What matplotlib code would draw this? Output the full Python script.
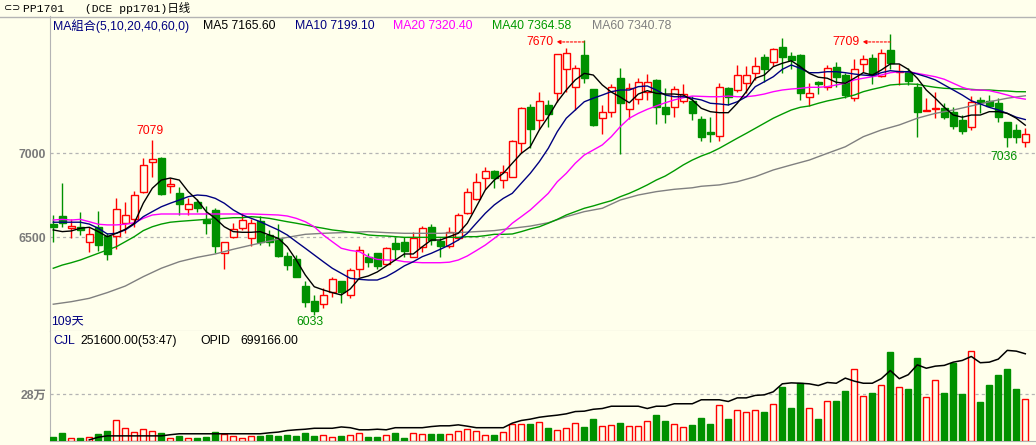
import matplotlib
matplotlib.use('Agg')
import matplotlib.pyplot as plt
import numpy as np

# ---- data ----
opens = [6577, 6625, 6555, 6561, 6472, 6558, 6506, 6506, 6582, 6605,
         6770, 6948, 6972, 6804, 6760, 6665, 6710, 6601, 6661, 6407,
         6502, 6552, 6492, 6595, 6512, 6492, 6387, 6367, 6208, 6119,
         6100, 6175, 6238, 6155, 6308, 6383, 6403, 6338, 6462, 6472,
         6383, 6442, 6558, 6478, 6446, 6492, 6641, 6724, 6849, 6893,
         6839, 6859, 7058, 7272, 7196, 7286, 7355, 7498, 7391, 7583,
         7379, 7207, 7242, 7444, 7260, 7320, 7365, 7435, 7272, 7276,
         7310, 7310, 7200, 7127, 7101, 7385, 7375, 7415, 7474, 7569,
         7544, 7629, 7577, 7583, 7332, 7425, 7391, 7510, 7464, 7329,
         7528, 7567, 7460, 7613, 7480, 7484, 7391, 7248, 7262, 7266,
         7246, 7196, 7153, 7315, 7311, 7300, 7182, 7137, 7064]
highs = [6631, 6820, 6605, 6647, 6561, 6657, 6522, 6730, 6710, 6774,
         6968, 7079, 6976, 6853, 6800, 6730, 6724, 6685, 6671, 6472,
         6585, 6641, 6605, 6625, 6542, 6577, 6413, 6393, 6240, 6155,
         6195, 6264, 6240, 6314, 6446, 6407, 6407, 6442, 6498, 6498,
         6532, 6565, 6577, 6492, 6558, 6645, 6790, 6883, 6919, 6897,
         6929, 7077, 7272, 7292, 7365, 7315, 7592, 7623, 7524, 7670,
         7383, 7286, 7411, 7504, 7419, 7444, 7470, 7439, 7385, 7399,
         7411, 7339, 7220, 7212, 7419, 7395, 7524, 7518, 7573, 7589,
         7627, 7683, 7603, 7587, 7415, 7429, 7524, 7540, 7478, 7558,
         7583, 7589, 7619, 7709, 7530, 7504, 7415, 7325, 7361, 7296,
         7272, 7226, 7341, 7335, 7345, 7325, 7186, 7171, 7147]
lows = [6472, 6561, 6492, 6512, 6413, 6419, 6363, 6427, 6522, 6561,
        6762, 6857, 6750, 6764, 6631, 6631, 6651, 6518, 6407, 6308,
        6492, 6542, 6446, 6452, 6448, 6380, 6304, 6260, 6082, 6033,
        6076, 6145, 6109, 6135, 6264, 6320, 6308, 6333, 6369, 6379,
        6380, 6413, 6452, 6383, 6433, 6482, 6637, 6720, 6784, 6792,
        6790, 6855, 6998, 7028, 7141, 7153, 7305, 7365, 7256, 7415,
        7161, 7113, 7212, 6994, 7200, 7292, 7315, 7173, 7180, 7216,
        7299, 7196, 7073, 7067, 7073, 7286, 7365, 7359, 7435, 7425,
        7518, 7478, 7498, 7315, 7280, 7351, 7375, 7395, 7325, 7310,
        7484, 7411, 7454, 7498, 7405, 7405, 7097, 7248, 7206, 7200,
        7141, 7113, 7137, 7240, 7276, 7186, 7036, 7058, 7038]
closes = [6561, 6582, 6565, 6542, 6518, 6452, 6397, 6665, 6631, 6750,
          6929, 6964, 6754, 6815, 6695, 6695, 6674, 6585, 6448, 6468,
          6546, 6601, 6582, 6468, 6468, 6387, 6333, 6264, 6115, 6060,
          6155, 6248, 6175, 6304, 6423, 6353, 6329, 6433, 6429, 6419,
          6492, 6555, 6482, 6446, 6528, 6631, 6766, 6829, 6893, 6849,
          6885, 7071, 7266, 7141, 7310, 7232, 7589, 7593, 7504, 7448,
          7167, 7242, 7395, 7296, 7385, 7421, 7425, 7276, 7232, 7379,
          7349, 7240, 7097, 7111, 7391, 7331, 7464, 7464, 7520, 7500,
          7617, 7569, 7554, 7359, 7355, 7409, 7504, 7450, 7345, 7498,
          7558, 7464, 7597, 7537, 7490, 7430, 7246, 7256, 7270, 7216,
          7161, 7133, 7302, 7304, 7280, 7212, 7097, 7093, 7111]

volumes = [24000, 48000, 16000, 18000, 24000, 42000, 60000, 126000, 78000, 56000,
           72000, 62000, 48000, 18000, 30000, 18000, 20000, 24000, 56000, 40000,
           28000, 18000, 28000, 30000, 36000, 30000, 36000, 30000, 48000, 30000,
           36000, 24000, 30000, 36000, 46000, 24000, 24000, 34000, 48000, 18000,
           46000, 40000, 42000, 42000, 40000, 60000, 70000, 60000, 34000, 36000,
           54000, 100000, 100000, 102000, 114000, 78000, 66000, 76000, 108000, 84000,
           132000, 88000, 94000, 108000, 88000, 88000, 120000, 157000, 120000, 100000,
           82000, 94000, 138000, 102000, 215000, 132000, 185000, 173000, 185000, 175000,
           221000, 325000, 199000, 347000, 197000, 132000, 239000, 241000, 301000, 432000,
           269000, 289000, 337000, 536000, 323000, 313000, 500000, 263000, 365000, 289000,
           470000, 283000, 540000, 235000, 337000, 397000, 434000, 313000, 251600]

# open interest line starts at day 4
oi_start = 4
open_interest = [246000, 260000, 267000, 267000, 267000, 267000, 267000, 267000, 267000, 273000,
                 278000, 278000, 278000, 278000, 278000, 278000, 278000, 278000, 278000, 278000,
                 283000, 287000, 295000, 299000, 302000, 307000, 307000, 307000, 314000, 310000,
                 299000, 299000, 302000, 299000, 310000, 310000, 310000, 310000, 316000, 320000,
                 320000, 325000, 318000, 310000, 310000, 310000, 310000, 334000, 348000, 355000,
                 365000, 371000, 376000, 383000, 395000, 397000, 407000, 411000, 423000, 423000,
                 423000, 423000, 411000, 423000, 423000, 436000, 436000, 436000, 457000, 457000,
                 457000, 448000, 467000, 467000, 480000, 483000, 499000, 541000, 546000, 544000,
                 541000, 532000, 548000, 544000, 571000, 555000, 544000, 544000, 568000, 611000,
                 568000, 589000, 641000, 623000, 634000, 638000, 655000, 664000, 685000, 652000,
                 655000, 671000, 717000, 713000, 699166]

ma5 = [6542, 6532, 6536, 6552, 6558, 6532, 6502, 6522, 6546, 6582,
       6701, 6790, 6839, 6851, 6839, 6770, 6720, 6651, 6611, 6561,
       6532, 6528, 6528, 6532, 6512, 6492, 6442, 6363, 6274, 6204,
       6185, 6169, 6155, 6191, 6254, 6268, 6292, 6328, 6363, 6399,
       6399, 6442, 6482, 6482, 6502, 6522, 6582, 6680, 6780, 6839,
       6879, 6939, 6998, 7038, 7137, 7216, 7305, 7375, 7435, 7474,
       7464, 7405, 7363, 7333, 7299, 7351, 7371, 7355, 7351, 7351,
       7345, 7316, 7266, 7246, 7240, 7240, 7296, 7365, 7445, 7464,
       7514, 7534, 7549, 7514, 7474, 7451, 7445, 7421, 7415, 7445,
       7478, 7464, 7494, 7530, 7530, 7498, 7445, 7375, 7326, 7272,
       7226, 7213, 7226, 7226, 7246, 7246, 7236, 7207, 7165.60]
ma10 = [6588, 6588, 6588, 6588, 6577, 6552, 6518, 6522, 6542, 6577,
        6621, 6651, 6680, 6701, 6720, 6740, 6750, 6746, 6730, 6701,
        6661, 6631, 6611, 6591, 6566, 6542, 6512, 6472, 6433, 6393,
        6353, 6314, 6284, 6254, 6248, 6244, 6244, 6264, 6294, 6328,
        6353, 6383, 6403, 6427, 6452, 6482, 6522, 6582, 6641, 6691,
        6730, 6760, 6820, 6879, 6948, 7028, 7127, 7207, 7256, 7305,
        7326, 7345, 7365, 7375, 7375, 7395, 7399, 7375, 7345, 7335,
        7335, 7326, 7316, 7296, 7292, 7286, 7305, 7335, 7395, 7424,
        7454, 7498, 7524, 7504, 7478, 7478, 7484, 7484, 7478, 7470,
        7464, 7460, 7478, 7490, 7484, 7484, 7470, 7454, 7435, 7405,
        7375, 7345, 7311, 7292, 7272, 7256, 7236, 7213, 7199.10]
ma20 = [6601, 6605, 6601, 6605, 6591, 6576, 6572, 6572, 6576, 6585,
        6611, 6631, 6637, 6637, 6637, 6637, 6637, 6637, 6637, 6637,
        6637, 6637, 6637, 6635, 6633, 6631, 6625, 6611, 6591, 6561,
        6512, 6472, 6433, 6420, 6413, 6383, 6367, 6363, 6363, 6353,
        6350, 6347, 6347, 6347, 6350, 6363, 6387, 6419, 6452, 6492,
        6532, 6582, 6621, 6661, 6710, 6760, 6829, 6879, 6939, 6988,
        7018, 7048, 7097, 7157, 7207, 7236, 7260, 7280, 7299, 7316,
        7329, 7339, 7337, 7335, 7335, 7339, 7335, 7335, 7341, 7351,
        7365, 7375, 7381, 7385, 7391, 7391, 7395, 7405, 7415, 7435,
        7445, 7454, 7464, 7478, 7484, 7484, 7474, 7464, 7454, 7439,
        7415, 7391, 7375, 7375, 7371, 7359, 7345, 7329, 7320.40]
ma40 = [6314, 6333, 6347, 6363, 6383, 6403, 6423, 6442, 6472, 6502,
        6538, 6561, 6577, 6588, 6593, 6597, 6601, 6605, 6607, 6611,
        6615, 6615, 6621, 6617, 6611, 6601, 6591, 6582, 6572, 6561,
        6552, 6542, 6536, 6528, 6522, 6512, 6508, 6506, 6502, 6498,
        6498, 6498, 6498, 6498, 6498, 6498, 6502, 6502, 6508, 6516,
        6516, 6518, 6532, 6548, 6561, 6582, 6605, 6631, 6651, 6671,
        6685, 6701, 6716, 6740, 6760, 6784, 6810, 6839, 6863, 6895,
        6929, 6958, 6982, 7002, 7028, 7058, 7088, 7117, 7147, 7177,
        7207, 7232, 7256, 7272, 7280, 7296, 7310, 7321, 7332, 7345,
        7365, 7379, 7391, 7405, 7409, 7411, 7409, 7399, 7391, 7385,
        7383, 7381, 7379, 7375, 7375, 7371, 7369, 7365, 7364.58]
ma60_idx = [0, 2, 4, 6, 8, 10, 12, 14, 16, 18, 20, 22, 24, 26, 28, 30, 32,
            33, 35, 37, 39, 41, 43, 45, 47, 49, 51, 53, 55, 57, 59, 61, 63, 65, 67, 69, 71,
            72, 74, 76, 78, 80, 82, 84, 86, 88, 90, 92, 94, 96, 98, 100, 102, 104, 106, 108]
ma60 = [6100, 6115, 6135, 6169, 6208, 6264, 6314, 6353, 6379, 6399, 6427, 6452, 6476, 6498, 6516, 6522, 6526,
        6528, 6532, 6526, 6522, 6522, 6522, 6526, 6532, 6538, 6552, 6565, 6585, 6621, 6651, 6671, 6720, 6750,
        6770, 6784, 6793,
        6802, 6810, 6829, 6859, 6899, 6929, 6958, 6998, 7037, 7097, 7137, 7167, 7207, 7236, 7256, 7280, 7305,
        7326, 7340.78]

W, H = 1036, 445
BG = '#FFFFEC'
RED = '#FF0000'
GRN = '#009100'
NAVY = '#000080'
GRAY = '#808080'
LINE = '#B4B4B4'

plt.rcParams['font.family'] = ['Liberation Sans', 'Noto Sans CJK TC', 'DejaVu Sans']

fig = plt.figure(figsize=(W / 100, H / 100), dpi=100, facecolor=BG)


def fx(px):
    return px / W


def fy(py):
    return 1 - py / H


ax = fig.add_axes([fx(49.5), fy(331), fx(W - 49.5), (331 - 16.5) / H], facecolor=BG)
vax = fig.add_axes([fx(49.5), fy(441), fx(W - 49.5), (441 - 331) / H], facecolor=BG)

x = np.arange(len(closes))
o = np.array(opens, float)
c = np.array(closes, float)
hi = np.array(highs, float)
lo = np.array(lows, float)
up = c >= o
top = np.maximum(o, c)
bot = np.minimum(o, c)
bw = 0.72

for a in (ax, vax):
    a.set_xlim(-0.42, 109.19)
    for s in a.spines.values():
        s.set_visible(False)
    a.spines['left'].set_visible(True)
    a.spines['left'].set_color(LINE)
    a.spines['bottom'].set_visible(True)
    a.spines['bottom'].set_color(LINE)
    a.tick_params(length=0, pad=2.5, labelsize=8.8, labelcolor='#7A7A7A')
    a.set_xticks([])

ax.set_ylim(5940.5, 7812.5)
ax.set_yticks([6500, 7000])
ax.set_yticklabels(['6500', '7000'], fontweight='bold')
for lv in (6500, 7000):
    ax.axhline(lv, color=LINE, lw=0.9, ls=(0, (2.5, 2.5)), zorder=0)

# wicks
ax.vlines(x[~up], lo[~up], hi[~up], color=GRN, lw=1, zorder=2)
ax.vlines(x[up], top[up], hi[up], color=RED, lw=1, zorder=2)
ax.vlines(x[up], lo[up], bot[up], color=RED, lw=1, zorder=2)
# bodies
ax.bar(x[~up], top[~up] - bot[~up], bottom=bot[~up], width=bw, color=GRN, edgecolor=GRN, lw=1, zorder=3)
ax.bar(x[up], top[up] - bot[up], bottom=bot[up], width=bw, color=BG, edgecolor=RED, lw=1, zorder=3)

# moving averages
ax.plot(ma60_idx, ma60, color=GRAY, lw=1, zorder=4)
ax.plot(x, ma40, color='#009A00', lw=1, zorder=4)
ax.plot(x, ma20, color='#FF00FF', lw=1, zorder=4)
ax.plot(x, ma10, color=NAVY, lw=1, zorder=4)
ax.plot(x, ma5, color='black', lw=1, zorder=4)

# extreme labels
i_hi = int(np.argmax(hi[:30]))
ax.annotate(f'{hi[i_hi]:.0f}', xy=(i_hi, hi[i_hi]), xytext=(-2, 9), textcoords='offset pixels',
            ha='center', va='center', color=RED, fontsize=8.8)
i_lo = int(np.argmin(lo))
ax.annotate(f'{lo[i_lo]:.0f}', xy=(i_lo, lo[i_lo]), xytext=(-4, -7), textcoords='offset pixels',
            ha='center', va='center', color=GRN, fontsize=8.8)
i_lo2 = 100 + int(np.argmin(lo[100:]))
ax.annotate(f'{lo[i_lo2]:.0f}', xy=(i_lo2, lo[i_lo2]), xytext=(-3, -10), textcoords='offset pixels',
            ha='center', va='center', color=GRN, fontsize=8.8)

peak_level = 7661
for k in (59, 93):
    ax.annotate(f'{hi[k]:.0f}', xy=(k, peak_level), xytext=(-31, 0), textcoords='offset pixels',
                ha='right', va='center', color=RED, fontsize=8.8)
    ax.annotate('', xy=(k - 3.1, peak_level), xytext=(k, peak_level),
                arrowprops=dict(arrowstyle='-|>', color=RED, lw=0.8, ls=(0, (2, 1.5)),
                                shrinkA=0, shrinkB=0, mutation_scale=6))

# volume panel
vol = np.array(volumes, float)
vax.set_ylim(0, 662000)
vax.set_yticks([280000])
vax.set_yticklabels(['28万'], fontweight='bold')
vax.axhline(280000, color=LINE, lw=0.9, ls=(0, (2.5, 2.5)), zorder=0)
vax.bar(x[~up], vol[~up], width=0.7, color=GRN, edgecolor=GRN, lw=1, zorder=3)
vax.bar(x[up], vol[up], width=0.7, color=BG, edgecolor=RED, lw=1, zorder=3)

oax = vax.twinx()
oax.set_ylim(240000, 819000)
oax.set_xlim(vax.get_xlim())
oax.axis('off')
oax.plot(np.arange(oi_start, oi_start + len(open_interest)), open_interest, color='black', lw=1.1)

# header strip
fig.add_artist(plt.Line2D([0, 1], [fy(16.5), fy(16.5)], color=LINE, lw=1))
fig.text(fx(4), fy(7.5), '⊂⊃', family='DejaVu Sans', fontsize=7, va='center', color='black')
fig.text(fx(23), fy(7.5), 'PP1701   (DCE pp1701)日线', family=['Liberation Mono', 'Noto Sans CJK SC'],
         fontsize=8.2, va='center', color='black')

ma_labels = [('MA組合(5,10,20,40,60,0)', NAVY, 53),
             (f'MA5 {ma5[-1]:.2f}', 'black', 203),
             (f'MA10 {ma10[-1]:.2f}', NAVY, 295),
             (f'MA20 {ma20[-1]:.2f}', '#FF00FF', 393),
             (f'MA40 {ma40[-1]:.2f}', '#009A00', 492.5),
             (f'MA60 {ma60[-1]:.2f}', GRAY, 591.5)]
for txt, col, px in ma_labels:
    fig.text(fx(px), fy(26), txt, color=col, fontsize=8.8, va='center')

fig.text(fx(51), fy(321.5), f'{len(closes)}天', color=NAVY, fontsize=8.8, va='center')

fig.text(fx(53), fy(341), 'CJL', color=NAVY, fontsize=8.8, va='center')
fig.text(fx(80), fy(341), f'{volumes[-1]:.2f}(53:47)', color='black', fontsize=8.8, va='center')
fig.text(fx(200), fy(341), 'OPID', color='black', fontsize=8.8, va='center')
fig.text(fx(240), fy(341), f'{open_interest[-1]:.2f}', color='black', fontsize=8.8, va='center')

fig.savefig('out.png', dpi=100, facecolor=BG)
